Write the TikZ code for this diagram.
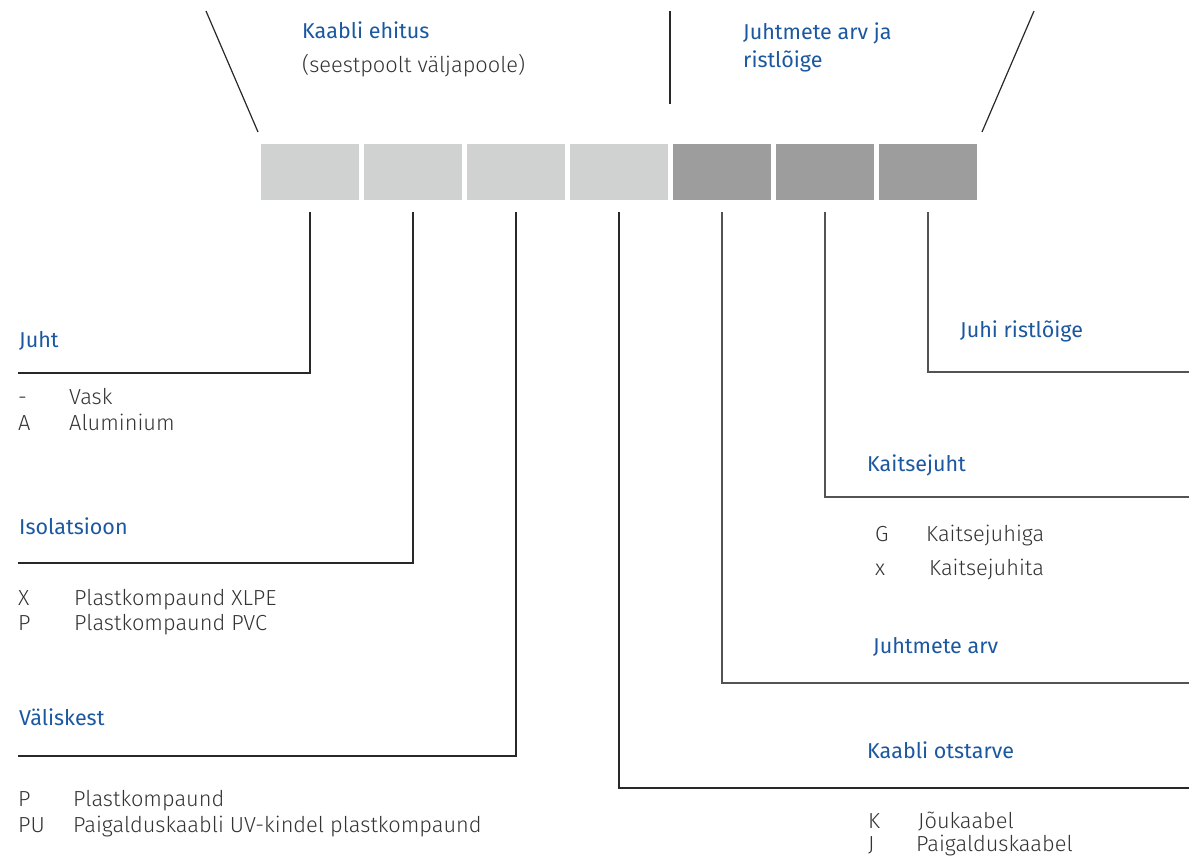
\documentclass[tikz,border=0pt]{standalone}
\usepackage{fontspec}
\setmainfont{Fira Sans Light}
\newfontfamily\headfont{Fira Sans}
\usepackage{tikz}
\usetikzlibrary{positioning}
\definecolor{kbblue}{RGB}{27,88,160}
\definecolor{kbtext}{RGB}{51,51,51}
\definecolor{kblight}{RGB}{208,210,209}
\definecolor{kbdark}{RGB}{157,157,157}
\definecolor{kbline}{RGB}{40,40,40}
\tikzset{
  fieldbox/.style={rectangle,minimum width=98pt,minimum height=56pt,inner sep=0pt},
  headlabel/.style={anchor=base west,inner sep=0pt,text=kbblue,font=\headfont\fontsize{21.5}{24}\selectfont},
  bodylabel/.style={anchor=base west,inner sep=0pt,text=kbtext,font=\fontsize{21.8}{24}\selectfont},
  leader/.style={draw=kbline,line width=1.2pt},
  faintleader/.style={draw=kbline!80,line width=1.2pt}
}

\begin{document}
\begin{tikzpicture}[x=1pt,y=-1pt]
  \useasboundingbox (0,0) rectangle (1189,859);
  % code fields
  \foreach \i/\col in {1/kblight,2/kblight,3/kblight,4/kblight,5/kbdark,6/kbdark,7/kbdark}
    \node[fieldbox,fill=\col] (f\i) at ({310+103*(\i-1)},172) {};
  % top headings
  \node[headlabel] (constr) at (302,39) {Kaabli ehitus};
  \node[bodylabel] (constrsub) at (302,73) {(seestpoolt väljapoole)};
  \node[headlabel] (cores) at (743,40) {Juhtmete arv ja};
  \node[headlabel] (coressub) at (743,68) {ristlõige};
  \coordinate (lefttop) at (206,11);
  \coordinate (leftbot) at (258,132);
  \coordinate (midtop) at (670,11);
  \coordinate (midbot) at (670,104);
  \coordinate (righttop) at (1034,11);
  \coordinate (rightbot) at (982,132);
  \draw[leader] (lefttop) -- (leftbot);
  \draw[leader] (midtop) -- (midbot);
  \draw[leader] (righttop) -- (rightbot);
  % left side
  \node[headlabel] (juht) at (19,347) {Juht};
  \node[bodylabel] (juhtA) at (18,404) {-};
  \node[bodylabel] (juhtAt) at (69,404) {Vask};
  \node[bodylabel] (juhtB) at (18,430) {A};
  \node[bodylabel] (juhtBt) at (69,430) {Aluminium};
  \node[headlabel] (isol) at (19,534) {Isolatsioon};
  \node[bodylabel] (isolA) at (18,605) {X};
  \node[bodylabel] (isolAt) at (74,605) {Plastkompaund XLPE};
  \node[bodylabel] (isolB) at (18,630) {P};
  \node[bodylabel] (isolBt) at (74,630) {Plastkompaund PVC};
  \node[headlabel] (kest) at (19,725) {Väliskest};
  \node[bodylabel] (kestA) at (18,806) {P};
  \node[bodylabel] (kestAt) at (73,806) {Plastkompaund};
  \node[bodylabel] (kestB) at (18,832) {PU};
  \node[bodylabel] (kestBt) at (73,832) {Paigalduskaabli UV-kindel plastkompaund};
  % right side
  \node[headlabel] (ristl) at (960,337) {Juhi ristlõige};
  \node[headlabel] (kaitse) at (867,471) {Kaitsejuht};
  \node[bodylabel] (kaitseA) at (875,541) {G};
  \node[bodylabel] (kaitseAt) at (926,541) {Kaitsejuhiga};
  \node[bodylabel] (kaitseB) at (875,575) {x};
  \node[bodylabel] (kaitseBt) at (929,575) {Kaitsejuhita};
  \node[headlabel] (arv) at (873,653) {Juhtmete arv};
  \node[headlabel] (otst) at (867,758) {Kaabli otstarve};
  \node[bodylabel] (otstA) at (868,828) {K};
  \node[bodylabel] (otstAt) at (918,828) {Jõukaabel};
  \node[bodylabel] (otstB) at (868,851) {J};
  \node[bodylabel] (otstBt) at (916,851) {Paigalduskaabel};
  % leader ends
  \coordinate (juhtend) at (18,373);
  \coordinate (isolend) at (18,563);
  \coordinate (kestend) at (18,756);
  \coordinate (otstend) at (1189,788);
  \coordinate (arvend) at (1189,683);
  \coordinate (kaitseend) at (1189,497);
  \coordinate (ristlend) at (1189,372);
  \draw[leader] ([yshift=-12pt]f1.south) |- (juhtend);
  \draw[leader] ([yshift=-12pt]f2.south) |- (isolend);
  \draw[leader] ([yshift=-12pt]f3.south) |- (kestend);
  \draw[leader] ([yshift=-12pt]f4.south) |- (otstend);
  \draw[faintleader] ([yshift=-12pt]f5.south) |- (arvend);
  \draw[faintleader] ([yshift=-12pt]f6.south) |- (kaitseend);
  \draw[faintleader] ([yshift=-12pt]f7.south) |- (ristlend);
\end{tikzpicture}
\end{document}
